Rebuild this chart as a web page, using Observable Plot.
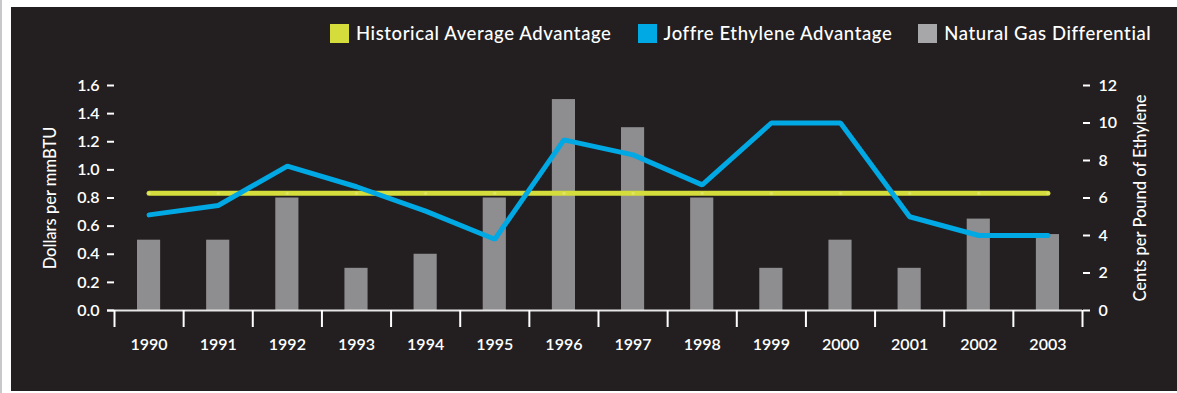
<!DOCTYPE html>
<html>
<head>
<meta charset="utf-8">
<script src="https://cdn.jsdelivr.net/npm/d3@7"></script>
<script src="https://cdn.jsdelivr.net/npm/@observablehq/plot@0.6"></script>
<style>
  html, body { margin: 0; padding: 0; background: #ffffff; }
  body { position: relative; width: 1177px; height: 393px; overflow: hidden; font-family: Lato, "Open Sans", sans-serif; }
  .edge { position: absolute; left: 0; top: 0; width: 2px; height: 393px; background: #c8c8ca; }
  .panel { position: absolute; left: 11px; top: 7px; width: 1166px; height: 384px; background: #231f20; }
  .legend { position: absolute; left: 330px; top: 24px; display: flex; gap: 26px; align-items: center; color: #ffffff; font-size: 18.5px; letter-spacing: 0.6px; font-weight: 500; line-height: 19px; }
  .legend .item { display: flex; align-items: center; gap: 7px; white-space: nowrap; }
  .legend .sw { width: 19px; height: 19px; display: inline-block; }
  #chart { position: absolute; left: 0; top: 50px; }
</style>
</head>
<body>
<div class="edge"></div>
<div class="panel"></div>
<div class="legend" id="legend"></div>
<div id="chart"></div>
<script>
// Yearly series
const years = [1990, 1991, 1992, 1993, 1994, 1995, 1996, 1997, 1998, 1999, 2000, 2001, 2002, 2003];
// Natural gas differential, dollars per mmBTU (left axis)
const gasDifferential = [0.5, 0.5, 0.8, 0.3, 0.4, 0.8, 1.5, 1.3, 0.8, 0.3, 0.5, 0.3, 0.65, 0.54];
// Joffre ethylene advantage, cents per pound of ethylene (right axis)
const joffreAdvantage = [5.1, 5.6, 7.7, 6.6, 5.3, 3.8, 9.1, 8.3, 6.7, 10.0, 10.0, 5.0, 4.0, 4.0];
// Historical average advantage, cents per pound
const historicalAverage = 6.25;

// Axis ticks
const dollarTicks = [0, 0.2, 0.4, 0.6, 0.8, 1.0, 1.2, 1.4, 1.6];
const centTicks = [0, 2, 4, 6, 8, 10, 12];

// Series names and colours
const seriesNames = ["Historical Average Advantage", "Joffre Ethylene Advantage", "Natural Gas Differential"];
const seriesColors = ["#d4dd3c", "#00a8e4", "#a7a7aa"];
const barColor = "#8e8d8f";

// 12 cents on the right axis lines up with $1.60 on the left axis
const CENT = 1.6 / 12;

const rows = years.map((year, i) => ({
  year,
  gas: gasDifferential[i],
  joffre: joffreAdvantage[i],
  hist: historicalAverage
}));

// Band edges between years, where the x-axis ticks sit
const edges = years.map(y => y - 0.5).concat([years[years.length - 1] + 0.5]);

// Legend
const legend = document.getElementById("legend");
seriesNames.forEach((name, i) => {
  const item = document.createElement("div");
  item.className = "item";
  const sw = document.createElement("span");
  sw.className = "sw";
  sw.style.background = seriesColors[i];
  const label = document.createElement("span");
  label.textContent = name;
  item.append(sw, label);
  legend.append(item);
});

const chart = Plot.plot({
  width: 1177,
  height: 341,
  marginLeft: 114,
  marginRight: 95,
  marginTop: 35,
  marginBottom: 81,
  style: { background: "transparent", color: "#ffffff", fontFamily: "Lato, 'Open Sans', sans-serif" },
  x: { type: "linear", domain: [edges[0], edges[edges.length - 1]] },
  y: { domain: [0, 1.6] },
  marks: [
    // Natural gas differential bars
    Plot.rectY(rows, {
      x1: d => d.year - 0.5,
      x2: d => d.year + 0.5,
      y: "gas",
      fill: barColor,
      insetLeft: 23,
      insetRight: 23
    }),
    // Baseline
    Plot.ruleY([0], { stroke: "#e6e6e6", strokeWidth: 2, insetLeft: -7 }),
    // Historical average advantage
    Plot.line(rows, {
      x: "year",
      y: d => d.hist * CENT,
      stroke: seriesColors[0],
      strokeWidth: 5,
      strokeLinecap: "round"
    }),
    Plot.dot(rows, {
      x: "year",
      y: d => d.hist * CENT,
      r: 1.6,
      fill: "#dfe662"
    }),
    // Joffre ethylene advantage
    Plot.line(rows, {
      x: "year",
      y: d => d.joffre * CENT,
      stroke: seriesColors[1],
      strokeWidth: 5,
      strokeLinecap: "round",
      strokeLinejoin: "miter"
    }),
    // Left axis: dollars per mmBTU
    Plot.axisY({
      anchor: "left",
      ticks: dollarTicks,
      tickFormat: d => d.toFixed(1),
      tickSize: 7,
      tickPadding: 8,
      strokeWidth: 2,
      fontSize: 16,
      fontWeight: 600,
      label: null
    }),
    // Right axis: cents per pound of ethylene
    Plot.axisY({
      anchor: "right",
      ticks: centTicks.map(c => c * CENT),
      tickFormat: d => String(Math.round(d / CENT)),
      tickSize: 7,
      tickPadding: 9,
      strokeWidth: 2,
      fontSize: 16,
      fontWeight: 600,
      label: null
    }),
    // Year separators
    Plot.axisX({
      ticks: edges,
      tickSize: 17,
      strokeWidth: 2,
      tickFormat: () => "",
      label: null
    }),
    // Year labels
    Plot.axisX({
      ticks: years,
      tickSize: 0,
      tickPadding: 28,
      tickFormat: d => String(d),
      fontSize: 16,
      fontWeight: 600,
      label: null
    }),
    // Axis titles
    Plot.text(["Dollars per mmBTU"], {
      frameAnchor: "left",
      textAnchor: "middle",
      dx: -64,
      rotate: -90,
      fill: "#ffffff",
      fontSize: 16.5,
      fontWeight: 500
    }),
    Plot.text(["Cents per Pound of Ethylene"], {
      frameAnchor: "right",
      textAnchor: "middle",
      dx: 58,
      rotate: -90,
      fill: "#ffffff",
      fontSize: 16.5,
      fontWeight: 500
    })
  ]
});

document.getElementById("chart").append(chart);
</script>
</body>
</html>
